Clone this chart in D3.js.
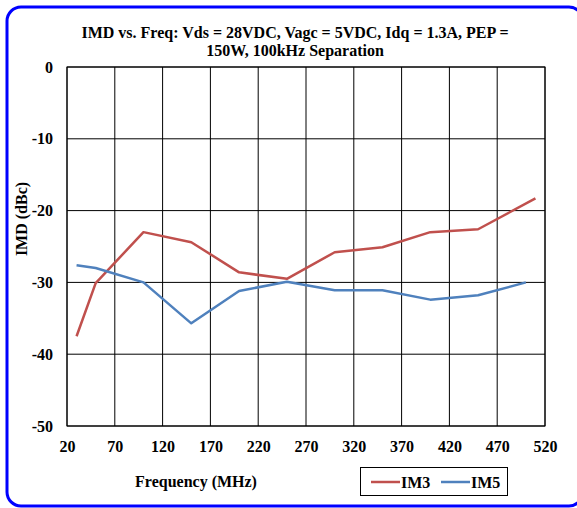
<!DOCTYPE html>
<html><head><meta charset="utf-8">
<script src="https://cdn.jsdelivr.net/npm/d3@7"></script>
<style>body{margin:0;background:#fff;}svg{display:block;}</style>
</head><body>
<svg id="c" width="577" height="508"></svg>
<script>
const freqIM3 = [30, 50, 100, 150, 200, 250, 300, 350, 400, 450, 510];
const valIM3 = [-37.5, -30.1, -23.0, -24.4, -28.6, -29.5, -25.8, -25.1, -23.0, -22.6, -18.3];
const freqIM5 = [30, 50, 100, 150, 200, 250, 300, 350, 400, 450, 500];
const valIM5 = [-27.6, -28.0, -30.0, -35.7, -31.2, -29.9, -31.1, -31.1, -32.4, -31.8, -30.0];
const xTicks = [20, 70, 120, 170, 220, 270, 320, 370, 420, 470, 520];
const yTicks = [0, -10, -20, -30, -40, -50];
const seriesNames = ["IM3", "IM5"];
const seriesColors = ["#C0504D", "#4F81BD"];
const titleLines = ["IMD vs. Freq: Vds = 28VDC, Vagc = 5VDC, Idq = 1.3A, PEP =", "150W, 100kHz Separation"];

const svg = d3.select("#c");
const font = "'Liberation Serif','Times New Roman',serif";
const L = 67, R = 545, T = 67, B = 426;
const x = d3.scaleLinear().domain([20, 520]).range([L, R]);
const y = d3.scaleLinear().domain([-50, 0]).range([B, T]);

svg.append("rect").attr("x", 7).attr("y", 7).attr("width", 576).attr("height", 499)
  .attr("rx", 14).attr("fill", "#fff").attr("stroke", "#0000ff").attr("stroke-width", 3);

svg.append("g").selectAll("text").data(titleLines).join("text")
  .attr("x", 295).attr("y", (d, i) => 38 + i * 18)
  .attr("text-anchor", "middle").attr("font-family", font).attr("font-weight", "bold")
  .attr("font-size", 16).attr("fill", "#000").text(d => d);

// grid
const g = svg.append("g");
g.selectAll("line.v").data(xTicks).join("line").attr("class", "v")
  .attr("x1", d => x(d)).attr("x2", d => x(d)).attr("y1", T).attr("y2", B)
  .attr("stroke", "#000").attr("stroke-width", 1);
g.selectAll("line.h").data(yTicks).join("line").attr("class", "h")
  .attr("x1", L).attr("x2", R).attr("y1", d => y(d)).attr("y2", d => y(d))
  .attr("stroke", "#000").attr("stroke-width", 1);

const fmt = d => String(d);
const xAxis = svg.append("g").attr("transform", `translate(0,${B})`)
  .call(d3.axisBottom(x).tickValues(xTicks).tickSize(0).tickFormat(fmt));
const yAxis = svg.append("g").attr("transform", `translate(${L},0)`)
  .call(d3.axisLeft(y).tickValues(yTicks).tickSize(0).tickPadding(14).tickFormat(fmt));
[xAxis, yAxis].forEach(a => {
  a.select(".domain").remove();
  a.selectAll("text").attr("font-family", font).attr("font-weight", "bold")
    .attr("font-size", 16).attr("fill", "#000");
});
xAxis.selectAll("text").attr("y", 26).attr("dy", 0);

svg.append("rect").attr("x", L).attr("y", T).attr("width", R - L).attr("height", B - T)
  .attr("fill", "none").attr("stroke", "#000").attr("stroke-width", 1);

const line = d3.line().x(d => x(d[0])).y(d => y(d[1]));
const series = [d3.zip(freqIM3, valIM3), d3.zip(freqIM5, valIM5)];
series.forEach((s, i) => {
  svg.append("path").datum(s).attr("d", line).attr("fill", "none")
    .attr("stroke", seriesColors[i]).attr("stroke-width", 2.5).attr("stroke-linejoin", "round");
});

svg.append("text").attr("transform", "translate(27,219) rotate(-90)")
  .attr("text-anchor", "middle").attr("font-family", font).attr("font-weight", "bold")
  .attr("font-size", 16).text("IMD (dBc)");
svg.append("text").attr("x", 196).attr("y", 487)
  .attr("text-anchor", "middle").attr("font-family", font).attr("font-weight", "bold")
  .attr("font-size", 16).text("Frequency (MHz)");

// legend
const lg = svg.append("g");
lg.append("rect").attr("x", 360.5).attr("y", 467.5).attr("width", 147).attr("height", 28)
  .attr("fill", "#fff").attr("stroke", "#000").attr("stroke-width", 1);
const lx = [371, 441];
seriesNames.forEach((n, i) => {
  lg.append("line").attr("x1", lx[i]).attr("x2", lx[i] + 29).attr("y1", 482).attr("y2", 482)
    .attr("stroke", seriesColors[i]).attr("stroke-width", 2.5);
  lg.append("text").attr("x", lx[i] + 30).attr("y", 488).attr("font-family", font)
    .attr("font-weight", "bold").attr("font-size", 16).text(n);
});
</script>
</body></html>
